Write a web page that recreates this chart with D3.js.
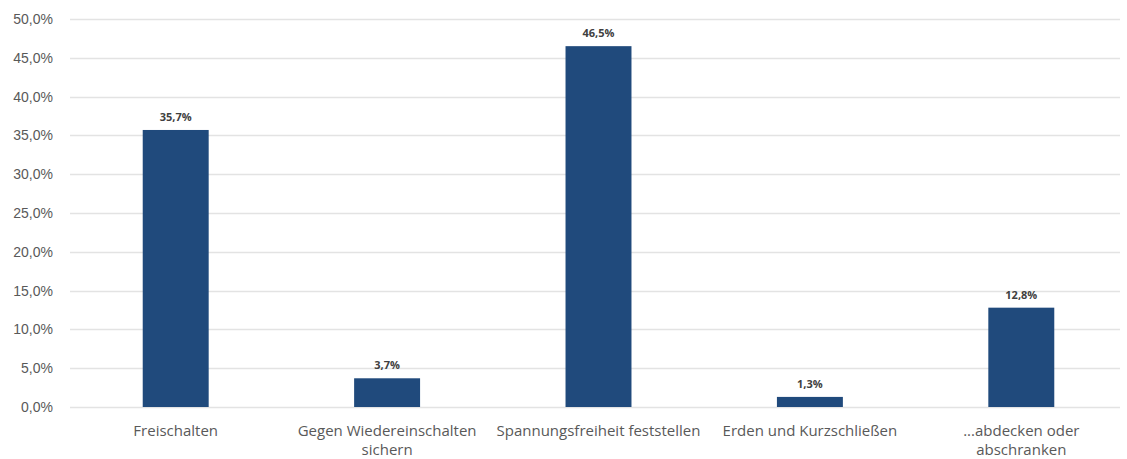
<!DOCTYPE html>
<html>
<head>
<meta charset="utf-8">
<script src="https://cdn.jsdelivr.net/npm/d3@7"></script>
<style>
  body { margin: 0; background: #fff; }
  svg { display: block; font-family: "Open Sans", sans-serif; }
</style>
</head>
<body>
<div id="chart"></div>
<script>
const categories = [
  ["Freischalten"],
  ["Gegen Wiedereinschalten", "sichern"],
  ["Spannungsfreiheit feststellen"],
  ["Erden und Kurzschließen"],
  ["...abdecken oder", "abschranken"]
];
const values = [35.7, 3.7, 46.5, 1.3, 12.8];
const yTicks = [0, 5, 10, 15, 20, 25, 30, 35, 40, 45, 50];

const W = 1127, H = 459;
const margin = { top: 19, right: 0, bottom: 52, left: 70 };
const width = W - margin.left - margin.right,
      height = H - margin.top - margin.bottom;

const fmt = v => v.toFixed(1).replace(".", ",") + "%";

const svg = d3.select("#chart").append("svg")
  .attr("width", W).attr("height", H)
  .append("g")
  .attr("transform", `translate(${margin.left},${margin.top})`);

const x = d3.scaleBand()
  .domain(d3.range(categories.length))
  .range([0, width])
  .paddingInner(0.688)
  .paddingOuter(0.344);

const y = d3.scaleLinear().domain([0, 50]).range([height, 0]);

// gridlines
svg.append("g")
  .selectAll("line")
  .data(yTicks)
  .enter().append("line")
  .attr("x1", 0).attr("x2", width - 7)
  .attr("y1", d => Math.round(y(d)) + 0.5)
  .attr("y2", d => Math.round(y(d)) + 0.5)
  .attr("stroke", "#e3e3e3")
  .attr("stroke-width", 1.5);

// y axis labels
const yAxis = svg.append("g")
  .call(d3.axisLeft(y).tickValues(yTicks).tickFormat(d => fmt(d)).tickSize(0).tickPadding(17));
yAxis.select(".domain").remove();
yAxis.selectAll("text")
  .attr("fill", "#595959")
  .style("font-size", "14px");

// bars
svg.selectAll("rect.bar")
  .data(values)
  .enter().append("rect")
  .attr("class", "bar")
  .attr("x", (d, i) => x(i))
  .attr("y", d => y(d))
  .attr("width", x.bandwidth())
  .attr("height", d => height - y(d))
  .attr("fill", "#204a7c");

// value labels
svg.selectAll("text.val")
  .data(values)
  .enter().append("text")
  .attr("class", "val")
  .attr("x", (d, i) => x(i) + x.bandwidth() / 2)
  .attr("y", d => y(d) - 9)
  .attr("text-anchor", "middle")
  .attr("fill", "#404040")
  .style("font-size", "11px")
  .style("font-weight", "bold")
  .text(d => fmt(d));

// category labels
const cat = svg.selectAll("text.cat")
  .data(categories)
  .enter().append("text")
  .attr("class", "cat")
  .attr("text-anchor", "middle")
  .attr("fill", "#595959")
  .style("font-size", "15px")
  .attr("transform", (d, i) => `translate(${x(i) + x.bandwidth() / 2},${height + 29})`);

cat.selectAll("tspan")
  .data(d => d)
  .enter().append("tspan")
  .attr("x", 0)
  .attr("dy", (d, i) => i === 0 ? 0 : 19)
  .text(d => d);
</script>
</body>
</html>
